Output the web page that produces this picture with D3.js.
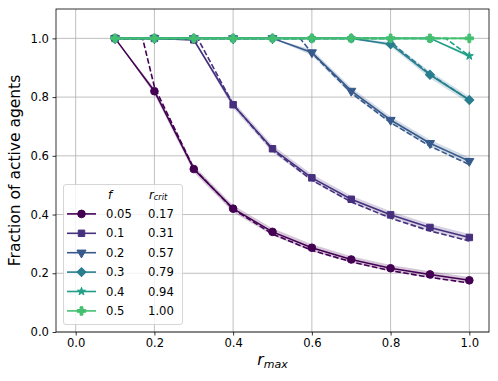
<!DOCTYPE html>
<html>
<head>
<meta charset="utf-8">
<script src="https://cdn.jsdelivr.net/npm/d3@7/dist/d3.min.js"></script>
<style>
  body { margin: 0; background: #fff; }
  svg { display: block; font-family: "DejaVu Sans", sans-serif; }
</style>
</head>
<body>
<svg id="chart" width="498" height="381"></svg>
<script>
// ---- data ----
const rmax = [0.1, 0.2, 0.3, 0.4, 0.5, 0.6, 0.7, 0.8, 0.9, 1.0];
const fValues = ["0.05", "0.1", "0.2", "0.3", "0.4", "0.5"];
const rCritLabels = ["0.17", "0.31", "0.57", "0.79", "0.94", "1.00"];

// simulated mean fraction of active agents
const meanF005 = [1.0, 0.82, 0.555, 0.42, 0.341, 0.287, 0.247, 0.217, 0.196, 0.176];
const meanF01  = [1.0, 1.0, 0.995, 0.774, 0.624, 0.525, 0.452, 0.399, 0.356, 0.322];
const meanF02  = [1.0, 1.0, 1.0, 1.0, 1.0, 0.952, 0.821, 0.722, 0.643, 0.582];
const meanF03  = [1.0, 1.0, 1.0, 1.0, 1.0, 1.0, 1.0, 0.98, 0.876, 0.79];
const meanF04  = [1.0, 1.0, 1.0, 1.0, 1.0, 1.0, 1.0, 1.0, 1.0, 0.94];
const meanF05  = [1.0, 1.0, 1.0, 1.0, 1.0, 1.0, 1.0, 1.0, 1.0, 1.0];

// standard deviation (shaded band)
const sdF005 = [0, 0.01, 0.012, 0.012, 0.012, 0.012, 0.011, 0.011, 0.011, 0.011];
const sdF01  = [0, 0, 0.004, 0.012, 0.012, 0.012, 0.012, 0.012, 0.012, 0.012];
const sdF02  = [0, 0, 0, 0, 0, 0.01, 0.012, 0.012, 0.012, 0.012];
const sdF03  = [0, 0, 0, 0, 0, 0, 0, 0.008, 0.012, 0.012];
const sdF04  = [0, 0, 0, 0, 0, 0, 0, 0, 0, 0.008];
const sdF05  = [0, 0, 0, 0, 0, 0, 0, 0, 0, 0];

// theoretical prediction (dashed): x positions and values
const theoX005 = [0.1, 0.17, 0.2, 0.3, 0.4, 0.5, 0.6, 0.7, 0.8, 0.9, 1.0];
const theoY005 = [1.0, 1.0, 0.835, 0.557, 0.418, 0.334, 0.278, 0.239, 0.209, 0.186, 0.167];
const theoX01  = [0.1, 0.2, 0.31, 0.4, 0.5, 0.6, 0.7, 0.8, 0.9, 1.0];
const theoY01  = [1.0, 1.0, 1.0, 0.775, 0.62, 0.517, 0.443, 0.388, 0.344, 0.31];
const theoX02  = [0.1, 0.2, 0.3, 0.4, 0.5, 0.57, 0.6, 0.7, 0.8, 0.9, 1.0];
const theoY02  = [1.0, 1.0, 1.0, 1.0, 1.0, 1.0, 0.95, 0.814, 0.713, 0.633, 0.57];
const theoX03  = [0.1, 0.2, 0.3, 0.4, 0.5, 0.6, 0.7, 0.79, 0.8, 0.9, 1.0];
const theoY03  = [1.0, 1.0, 1.0, 1.0, 1.0, 1.0, 1.0, 1.0, 0.9875, 0.878, 0.79];
const theoX04  = [0.1, 0.2, 0.3, 0.4, 0.5, 0.6, 0.7, 0.8, 0.9, 0.94, 1.0];
const theoY04  = [1.0, 1.0, 1.0, 1.0, 1.0, 1.0, 1.0, 1.0, 1.0, 1.0, 0.94];
const theoX05  = [0.1, 0.2, 0.3, 0.4, 0.5, 0.6, 0.7, 0.8, 0.9, 1.0];
const theoY05  = [1.0, 1.0, 1.0, 1.0, 1.0, 1.0, 1.0, 1.0, 1.0, 1.0];

const xTicks = [0.0, 0.2, 0.4, 0.6, 0.8, 1.0];
const yTicks = [0.0, 0.2, 0.4, 0.6, 0.8, 1.0];
const markerTypes = ["circle", "square", "triangleDown", "diamond", "star", "plus"];
const colorStops = [0, 0.14, 0.28, 0.42, 0.56, 0.7];

const series = [
  {mean: meanF005, sd: sdF005, tx: theoX005, ty: theoY005},
  {mean: meanF01,  sd: sdF01,  tx: theoX01,  ty: theoY01},
  {mean: meanF02,  sd: sdF02,  tx: theoX02,  ty: theoY02},
  {mean: meanF03,  sd: sdF03,  tx: theoX03,  ty: theoY03},
  {mean: meanF04,  sd: sdF04,  tx: theoX04,  ty: theoY04},
  {mean: meanF05,  sd: sdF05,  tx: theoX05,  ty: theoY05}
];

// ---- layout ----
const svg = d3.select("#chart");
const L = 56, R = 489, T = 9, B = 332;
const x = d3.scaleLinear().domain([-0.05, 1.05]).range([L, R]);
const y = d3.scaleLinear().domain([0, 1.1]).range([B, T]);
const colors = colorStops.map(t => d3.interpolateViridis(t));
const tickFont = "11.6px";

// grid
const grid = svg.append("g");
grid.selectAll(".gx").data(xTicks).enter().append("line")
  .attr("x1", d => x(d)).attr("x2", d => x(d)).attr("y1", T).attr("y2", B)
  .attr("stroke", "#b0b0b0").attr("stroke-width", 0.8);
grid.selectAll(".gy").data(yTicks).enter().append("line")
  .attr("y1", d => y(d)).attr("y2", d => y(d)).attr("x1", L).attr("x2", R)
  .attr("stroke", "#b0b0b0").attr("stroke-width", 0.8);

// axes
const fmt = d3.format(".1f");
const xAxis = svg.append("g").attr("transform", `translate(0,${B})`)
  .call(d3.axisBottom(x).tickValues(xTicks).tickFormat(fmt).tickSizeOuter(0).tickSize(3.5).tickPadding(3.5));
const yAxis = svg.append("g").attr("transform", `translate(${L},0)`)
  .call(d3.axisLeft(y).tickValues(yTicks).tickFormat(fmt).tickSizeOuter(0).tickSize(3.5).tickPadding(3.5));
[xAxis, yAxis].forEach(a => {
  a.select(".domain").remove();
  a.selectAll("line").attr("stroke", "#000").attr("stroke-width", 0.8);
  a.selectAll("text").attr("fill", "#000").attr("font-size", tickFont)
    .attr("font-family", "DejaVu Sans, sans-serif");
});

// marker helper
function markerPath(type) {
  switch (type) {
    case "circle": return d3.symbol(d3.symbolCircle, 46)();
    case "square": return d3.symbol(d3.symbolSquare, 42)();
    case "triangleDown": return d3.symbol(d3.symbolTriangle, 36)();
    case "diamond": return d3.symbol(d3.symbolSquare, 40)();
    case "star": return d3.symbol(d3.symbolStar, 20)();
    case "plus": return d3.symbol(d3.symbolCross, 40)();
  }
}
function markerRot(type) {
  if (type === "triangleDown") return 180;
  if (type === "diamond") return 45;
  return 0;
}

const plot = svg.append("g");
const area = d3.area().x((d, i) => x(rmax[i])).y0(d => y(d[0])).y1(d => y(d[1]));
const line = d3.line().x(d => x(d[0])).y(d => y(d[1]));

series.forEach((s, k) => {
  const c = colors[k];
  const band = s.mean.map((m, i) => [m - s.sd[i], m + s.sd[i]]);
  plot.append("path").datum(band).attr("d", area)
    .attr("fill", c).attr("fill-opacity", 0.22).attr("stroke", "none");
  plot.append("path").datum(s.mean.map((m, i) => [rmax[i], m])).attr("d", line)
    .attr("fill", "none").attr("stroke", c).attr("stroke-width", 1.6);
  plot.selectAll(null).data(s.mean.map((m, i) => [rmax[i], m])).enter().append("path")
    .attr("d", markerPath(markerTypes[k]))
    .attr("transform", d => `translate(${x(d[0])},${y(d[1])}) rotate(${markerRot(markerTypes[k])})`)
    .attr("fill", c).attr("stroke", c).attr("stroke-width", 1);
  plot.append("path").datum(s.tx.map((v, i) => [v, s.ty[i]])).attr("d", line)
    .attr("fill", "none").attr("stroke", c).attr("stroke-width", 1.6)
    .attr("stroke-dasharray", "5.6,2.4");
});

// spines
svg.append("rect").attr("x", L).attr("y", T).attr("width", R - L).attr("height", B - T)
  .attr("fill", "none").attr("stroke", "#000").attr("stroke-width", 0.8);

// axis labels
svg.append("text").attr("transform", `translate(15,${(T + B) / 2}) rotate(-90)`)
  .attr("text-anchor", "middle").attr("dominant-baseline", "central")
  .attr("font-size", "15.5px").attr("fill", "#000").text("Fraction of active agents");
const xl = svg.append("text").attr("x", (L + R) / 2).attr("y", 365)
  .attr("text-anchor", "middle").attr("font-size", "15.5px").attr("fill", "#000");
xl.append("tspan").attr("font-style", "italic").text("r");
xl.append("tspan").attr("font-style", "italic").attr("font-size", "11px").attr("dy", "3").text("max");

// legend
const lg = svg.append("g");
lg.append("rect").attr("x", 63.5).attr("y", 184.5).attr("width", 119).attr("height", 140)
  .attr("rx", 2.5).attr("fill", "#fff").attr("fill-opacity", 0.8)
  .attr("stroke", "#cccccc").attr("stroke-width", 0.8);
const rowY0 = 194.5, rowH = 19.4;
lg.append("text").attr("x", 108).attr("y", rowY0).attr("dominant-baseline", "central")
  .attr("font-size", tickFont).attr("font-style", "italic").text("f");
const hdr2 = lg.append("text").attr("x", 149).attr("y", rowY0).attr("dominant-baseline", "central")
  .attr("font-size", tickFont).attr("font-style", "italic");
hdr2.append("tspan").text("r");
hdr2.append("tspan").attr("font-size", "8.2px").attr("dy", "2.5").text("crit");
fValues.forEach((fv, k) => {
  const yy = rowY0 + rowH * (k + 1);
  const c = colors[k];
  lg.append("line").attr("x1", 67).attr("x2", 96).attr("y1", yy).attr("y2", yy)
    .attr("stroke", c).attr("stroke-width", 1.6);
  lg.append("path").attr("d", markerPath(markerTypes[k]))
    .attr("transform", `translate(81.5,${yy}) rotate(${markerRot(markerTypes[k])})`)
    .attr("fill", c).attr("stroke", c).attr("stroke-width", 1);
  lg.append("text").attr("x", 106).attr("y", yy).attr("dominant-baseline", "central")
    .attr("font-size", tickFont).attr("fill", "#000").text(fv);
  lg.append("text").attr("x", 148).attr("y", yy).attr("dominant-baseline", "central")
    .attr("font-size", tickFont).attr("fill", "#000").text(rCritLabels[k]);
});
</script>
</body>
</html>
